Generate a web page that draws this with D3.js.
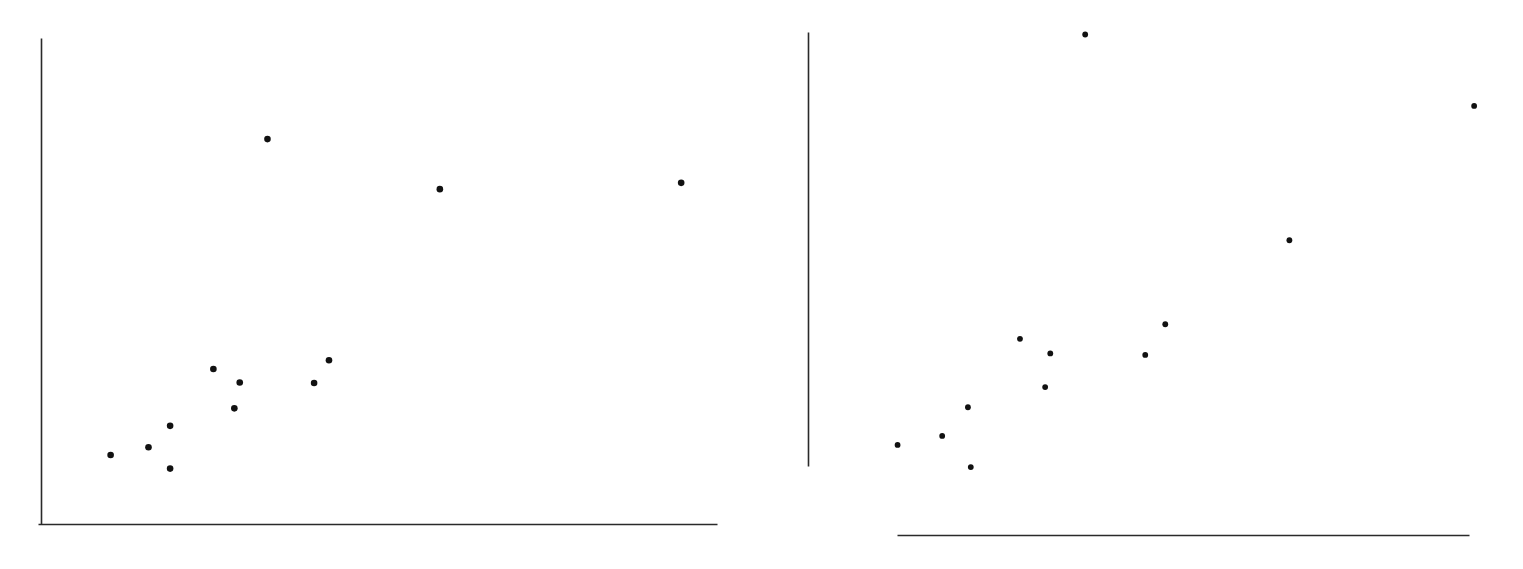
<!DOCTYPE html>
<html>
<head>
<meta charset="utf-8">
<script src="https://cdn.jsdelivr.net/npm/d3@7"></script>
<style>
  html, body { margin: 0; padding: 0; background: #ffffff; }
  svg { display: block; }
</style>
</head>
<body>
<svg id="chart" width="1523" height="569"></svg>
<script>
// ---- data (arbitrary units) ----
const leftX  = [10.3, 15.9, 19.1, 19.1, 25.5, 29.4, 28.6, 33.5, 40.4, 42.6, 59.0, 94.7];
const leftY  = [14.2, 15.8, 20.2, 11.4, 31.9, 29.1, 23.8, 79.2, 29.0, 33.7, 68.9, 70.2];
const rightX = [0.1, 7.9, 12.4, 12.9, 21.5, 26.8, 25.9, 32.9, 43.4, 46.9, 68.6, 100.9];
const rightY = [17.9, 19.7, 25.4, 13.5, 39.0, 36.1, 29.4, 99.5, 35.8, 41.9, 58.6, 85.3];

const svg = d3.select("#chart");
const axisColor = "#2a2a2a";

function styleAxis(g) {
  g.selectAll("path.domain").attr("stroke", axisColor).attr("stroke-width", 1.6);
  g.selectAll(".tick").remove();
}

// ---- left panel ----
const xL = d3.scaleLinear().domain([0, 100]).range([41, 717]);
const yL = d3.scaleLinear().domain([0, 100]).range([524, 38]);
const xLAxis = d3.scaleLinear().domain([xL.invert(38), 100]).range([38, 717]);

svg.append("g")
  .attr("transform", `translate(0,${yL(0)})`)
  .call(d3.axisBottom(xLAxis).tickValues([]).tickSizeOuter(0))
  .call(styleAxis);
svg.append("g")
  .attr("transform", `translate(${xL(0)},0)`)
  .call(d3.axisLeft(yL).tickValues([]).tickSizeOuter(0))
  .call(styleAxis);

svg.append("g").selectAll("circle")
  .data(d3.range(leftX.length))
  .join("circle")
  .attr("cx", i => xL(leftX[i]))
  .attr("cy", i => yL(leftY[i]))
  .attr("r", 3.3)
  .attr("fill", "#111");

// ---- right panel ----
const xR = d3.scaleLinear().domain([0, 100]).range([897, 1469]);
const yR = d3.scaleLinear().domain([0, 100]).range([535, 32]);
const yRAxis = d3.scaleLinear().domain([yR.invert(466), 100]).range([466, 32]);

svg.append("g")
  .attr("transform", `translate(0,${yR(0)})`)
  .call(d3.axisBottom(xR).tickValues([]).tickSizeOuter(0))
  .call(styleAxis);
svg.append("g")
  .attr("transform", `translate(808,0)`)
  .call(d3.axisLeft(yRAxis).tickValues([]).tickSizeOuter(0))
  .call(styleAxis);

svg.append("g").selectAll("circle")
  .data(d3.range(rightX.length))
  .join("circle")
  .attr("cx", i => xR(rightX[i]))
  .attr("cy", i => yR(rightY[i]))
  .attr("r", 2.9)
  .attr("fill", "#111");
</script>
</body>
</html>
